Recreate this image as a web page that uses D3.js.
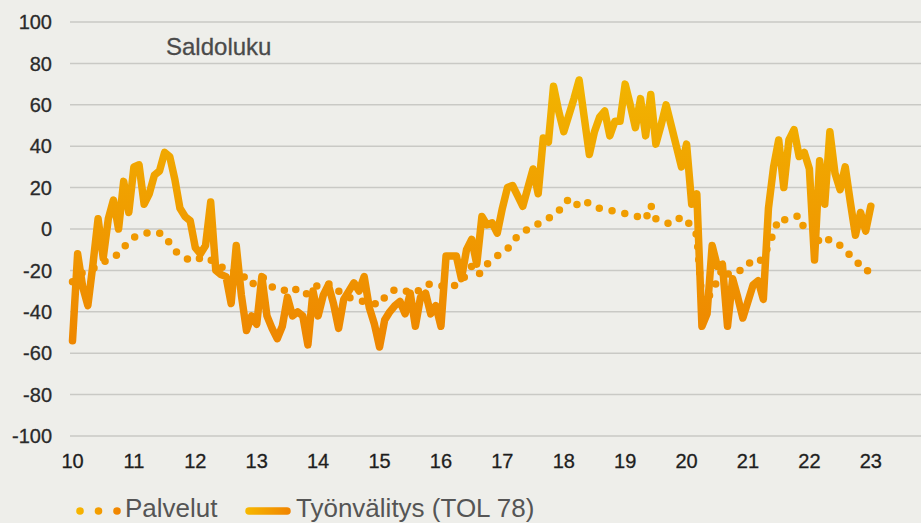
<!DOCTYPE html>
<html>
<head>
<meta charset="utf-8">
<script src="https://cdn.jsdelivr.net/npm/d3@7"></script>
<style>
  body { margin: 0; background: #eeeeea; }
  svg { display: block; }
</style>
</head>
<body>
<div id="chart-area"></div>
<script>
//Data: monthly values Jan 2010 - Jan 2023 (saldoluku)
var tyonvalitys = [
    -54, -12, -28, -37, -17, 5, -14, 5, 14, 0, 23, 8,
    30, 31, 12, 17, 26, 28, 37, 35, 24, 10, 6, 4,
    -9, -12, -8, 13, -20, -22, -23, -36, -8, -32, -49, -42,
    -46, -23, -42, -48, -53, -47, -33, -42, -40, -42, -56, -30,
    -42, -32, -27, -36, -48, -34, -30, -26, -30, -23, -38, -46,
    -57, -44, -40, -37, -35, -41, -31, -47, -33, -31, -41, -37,
    -47, -13, -13, -13, -24, -10, -5, -17, 6, 2, 3, -2,
    10, 20, 21, 16, 11, 20, 29, 17, 44, 42, 69, 57,
    47, 55, 63, 72, 54, 36, 47, 54, 57, 45, 52, 52,
    70, 60, 49, 63, 45, 65, 41, 50, 60, 50, 40, 30,
    41, 12, 17, -47, -41, -8, -18, -17, -47, -24, -33, -43,
    -35, -27, -25, -34, 10, 30, 43, 20, 43, 48, 35, 37,
    29, -15, 33, 12, 47, 27, 19, 30, 13, -3, 8, -1,
    11
];

var palvelut = [
    -25.5, -23, -21, -20, -19, -18, -16, -15, -13.5, -12, -9, -6,
    -4, -3, -2.5, -1.5, -1.5, -2, -3, -7, -10.5, -12.5, -14, -15,
    -15.5, -14, -13.5, -15, -16, -18, -20, -20.5, -20.5, -21, -25, -27,
    -25, -23, -25, -28, -29, -30, -29, -28, -30, -32, -31, -29,
    -27, -26, -26.5, -27, -30, -32, -33, -34, -34.6, -35, -35.5, -36,
    -36.7, -33, -30, -29.5, -29, -30, -30.5, -31, -29, -27, -26.5, -27,
    -27.5, -28, -28, -27, -25, -22, -18, -22, -21, -17, -15, -13,
    -11.5, -9.7, -6, -3.5, -1.5, 0, 1.5, 2.5, 3.5, 5, 7, 8.5,
    13, 14, 11, 12.5, 14, 12, 10.5, 10, 9.5, 9, 8.5, 8,
    7.5, 7, 6.4, 5.5, 4.5, 11.6, 5, 4, 3, 2.4, 4, 6,
    4, 1, -3, -35, -34, -30, -25, -19, -22, -20, -20, -20,
    -17, -15, -16, -14, -8, -2, 5, 4.5, 4.5, 5.7, 6.5, 0,
    0, 0, -7, -6, -5, -6, -8, -10, -13, -16, -17, -18,
    -24
];

var yearTicks = [10, 11, 12, 13, 14, 15, 16, 17, 18, 19, 20, 21, 22, 23];
var yTicks = [-100, -80, -60, -40, -20, 0, 20, 40, 60, 80, 100];
var seriesNames = ["Palvelut", "Työnvälitys (TOL 78)"];

var width = 921,
    height = 523;

var svg = d3.select("#chart-area").append("svg")
    .attr("width", width)
    .attr("height", height)
    .style("font-family", "'Liberation Sans', Arial, sans-serif");

svg.append("rect")
    .attr("width", width)
    .attr("height", height)
    .attr("fill", "#eeeeea");

//Scales (x in years 10..23, one point per month)
var xScale = d3.scaleLinear()
    .domain([10, 23])
    .range([72.5, 870.8]);

var yScale = d3.scaleLinear()
    .domain([-100, 100])
    .range([436, 22]);

//Gradients: vertical one for the marks, horizontal one for the legend
var defs = svg.append("defs");

var grad = defs.append("linearGradient")
    .attr("id", "vgrad")
    .attr("gradientUnits", "userSpaceOnUse")
    .attr("x1", 0).attr("x2", 0)
    .attr("y1", yScale(75)).attr("y2", yScale(-57));
grad.append("stop").attr("offset", "0%").attr("stop-color", "#f2b500");
grad.append("stop").attr("offset", "100%").attr("stop-color", "#ee8600");

var hgrad = defs.append("linearGradient")
    .attr("id", "hgrad")
    .attr("gradientUnits", "userSpaceOnUse")
    .attr("x1", 75).attr("x2", 120)
    .attr("y1", 0).attr("y2", 0);
hgrad.append("stop").attr("offset", "0%").attr("stop-color", "#f7b900");
hgrad.append("stop").attr("offset", "100%").attr("stop-color", "#f08300");

var hgrad2 = defs.append("linearGradient")
    .attr("id", "hgrad2")
    .attr("gradientUnits", "userSpaceOnUse")
    .attr("x1", 245).attr("x2", 291)
    .attr("y1", 0).attr("y2", 0);
hgrad2.append("stop").attr("offset", "0%").attr("stop-color", "#f7b900");
hgrad2.append("stop").attr("offset", "100%").attr("stop-color", "#f08300");

//Gridlines
svg.append("g")
    .selectAll("line")
    .data(yTicks)
    .enter()
    .append("line")
    .attr("x1", 70)
    .attr("x2", width)
    .attr("y1", (d) => yScale(d))
    .attr("y2", (d) => yScale(d))
    .attr("stroke", "#c9c9c5")
    .attr("stroke-width", 1.5);

//Y tick labels
svg.append("g")
    .selectAll("text")
    .data(yTicks)
    .enter()
    .append("text")
    .attr("x", 52)
    .attr("y", (d) => yScale(d))
    .attr("dy", "0.36em")
    .attr("text-anchor", "end")
    .style("font-size", "20px")
    .style("fill", "#2a2a2a")
    .style("stroke", "#2a2a2a")
    .style("stroke-width", 0.3)
    .text((d) => d);

//X tick labels
svg.append("g")
    .selectAll("text")
    .data(yearTicks)
    .enter()
    .append("text")
    .attr("x", (d) => xScale(d))
    .attr("y", 468)
    .attr("text-anchor", "middle")
    .style("font-size", "20px")
    .style("fill", "#1e1e1e")
    .style("stroke", "#1e1e1e")
    .style("stroke-width", 0.3)
    .text((d) => d);

//Subtitle
svg.append("text")
    .attr("x", 166)
    .attr("y", 55)
    .style("font-size", "24px")
    .style("fill", "#4a4a4a")
    .style("stroke", "#4a4a4a")
    .style("stroke-width", 0.3)
    .text("Saldoluku");

var line = d3.line()
    .x((d, i) => xScale(10 + i / 12))
    .y((d) => yScale(d));

//Työnvälitys solid line
svg.append("path")
    .datum(tyonvalitys)
    .attr("d", line)
    .attr("fill", "none")
    .attr("stroke", "url(#vgrad)")
    .attr("stroke-width", 7.5)
    .attr("stroke-linejoin", "round")
    .attr("stroke-linecap", "round");

//Palvelut dotted line
svg.append("path")
    .datum(palvelut)
    .attr("d", line)
    .attr("fill", "none")
    .attr("stroke", "url(#vgrad)")
    .attr("stroke-width", 7.5)
    .attr("stroke-linecap", "round")
    .attr("stroke-dasharray", "0 13");

//Legend
var legend = svg.append("g");

legend.selectAll("circle")
    .data([80, 98.5, 117])
    .enter()
    .append("circle")
    .attr("cx", (d) => d)
    .attr("cy", 511)
    .attr("r", 3.8)
    .attr("fill", "url(#hgrad)");

legend.append("text")
    .attr("x", 125)
    .attr("y", 517)
    .style("font-size", "26px")
    .style("fill", "#555")
    .text(seriesNames[0]);

legend.append("line")
    .attr("x1", 249).attr("x2", 287)
    .attr("y1", 511).attr("y2", 511)
    .attr("stroke", "url(#hgrad2)")
    .attr("stroke-width", 7.5)
    .attr("stroke-linecap", "round");

legend.append("text")
    .attr("x", 296)
    .attr("y", 517)
    .style("font-size", "26px")
    .style("fill", "#555")
    .text(seriesNames[1]);
</script>
</body>
</html>
